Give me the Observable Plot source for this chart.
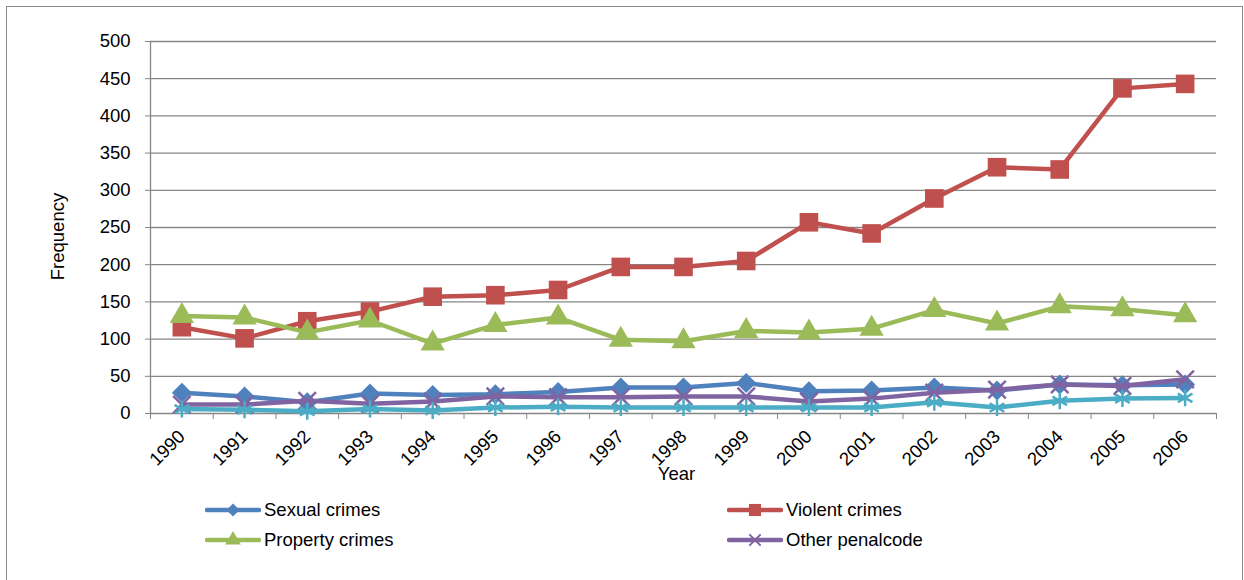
<!DOCTYPE html>
<html><head><meta charset="utf-8">
<script src="https://cdn.jsdelivr.net/npm/d3@7"></script>
<script src="https://cdn.jsdelivr.net/npm/@observablehq/plot@0.6"></script>
<style>
body{margin:0;background:#fff;font-family:"Liberation Sans",Arial,sans-serif;}
#wrap{position:relative;width:1244px;height:580px;overflow:hidden;background:#fff;}
#border{position:absolute;left:6px;top:6px;width:1237px;height:580px;border:1px solid #8a8a8a;box-sizing:border-box;pointer-events:none;}
#chart{position:absolute;left:0;top:0;}
.leg{position:absolute;display:flex;align-items:center;font-size:18.5px;color:#000;height:20px;}
.leg svg{display:block;margin-right:3px;}
</style>
</head><body>
<div id="wrap"><div id="chart"></div><div id="legend"></div><div id="border"></div></div>
<script>
const years = [1990,1991,1992,1993,1994,1995,1996,1997,1998,1999,2000,2001,2002,2003,2004,2005,2006];
const sexualCrimes   = [28,23,15,27,25,26,29,35,35,41,30,31,35,31,39,38,39];
const violentCrimes  = [116,101,124,137,157,159,166,197,197,205,257,242,289,331,328,437,443];
const propertyCrimes = [131,129,109,125,94,119,129,99,97,111,109,114,139,121,144,140,132];
const otherPenalcode = [12,12,17,13,16,23,22,22,23,23,16,20,28,32,39,37,46];
const fifthSeries    = [6,5,3,6,4,8,9,8,8,8,8,8,15,8,17,20,21];
const yTicks = [0,50,100,150,200,250,300,350,400,450,500];

const seriesDefs = [
  {name:"Sexual crimes",   values:sexualCrimes,   color:"#4F81BD", symbol:"diamond2", r:9,    filled:true,  legend:true},
  {name:"Violent crimes",  values:violentCrimes,  color:"#C0504D", symbol:"square",   r:10.5, filled:true,  legend:true},
  {name:"Property crimes", values:propertyCrimes, color:"#9BBB59", symbol:"triangle", r:9,    filled:true,  legend:true},
  {name:"Other penalcode", values:otherPenalcode, color:"#8064A2", symbol:"times",    r:8,    filled:false, legend:true},
  {name:"Other",           values:fifthSeries,    color:"#4BACC6", symbol:"asterisk", r:8,    filled:false, legend:false}
];

const bounds = years.map(y => y - 0.5).concat([years[years.length-1] + 0.5]);
const xDomain = [bounds[0], bounds[bounds.length-1]];

const marks = [
  Plot.gridY(yTicks, {stroke:"#868686", strokeOpacity:1, strokeWidth:1.3}),
  Plot.ruleX([xDomain[0]], {stroke:"#868686", strokeWidth:1.3}),
  Plot.axisY({ticks:yTicks, tickSize:5, tickPadding:15, stroke:"#868686", fill:"#000", fontSize:18.5, label:null}),
  Plot.axisX({ticks:bounds, tickSize:6, tickFormat:() => "", stroke:"#868686", label:null}),
  Plot.axisX({ticks:years, tickSize:0, tickPadding:20, tickRotate:-45, tickFormat:d => String(d), fill:"#000", fontSize:18.5, label:null}),
  Plot.text(["Frequency"], {frameAnchor:"left", textAnchor:"middle", dx:-92, dy:9, rotate:-90, fontSize:18.5, fill:"#000"}),
  Plot.text(["Year"], {frameAnchor:"bottom", dy:66, dx:-7, fontSize:18.5, fill:"#000"})
];

for (const s of seriesDefs) {
  const data = years.map((y, i) => ({year:y, value:s.values[i]}));
  marks.push(Plot.line(data, {x:"year", y:"value", stroke:s.color, strokeWidth:4.5, strokeLinejoin:"round", strokeLinecap:"round"}));
  if (s.filled) {
    marks.push(Plot.dot(data, {x:"year", y:"value", symbol:s.symbol, r:s.r, fill:s.color, stroke:"none"}));
  } else {
    marks.push(Plot.dot(data, {x:"year", y:"value", symbol:s.symbol, r:s.r, stroke:s.color, strokeWidth:2.5, fill:"none"}));
  }
}

const chart = Plot.plot({
  width:1244, height:580,
  marginLeft:150, marginRight:28, marginTop:41, marginBottom:167,
  style:{fontFamily:"'Liberation Sans', Arial, sans-serif", fontSize:"18.5px", color:"#000", background:"#fff"},
  x:{type:"linear", domain:xDomain, axis:null},
  y:{domain:[0,500], axis:null},
  marks
});
document.getElementById("chart").appendChild(chart);

// Legend
const legPos = [{x:205,y:500},{x:727,y:500},{x:205,y:530},{x:727,y:530}];
const leg = document.getElementById("legend");
seriesDefs.filter(s => s.legend).forEach((s, i) => {
  const div = document.createElement("div");
  div.className = "leg";
  div.style.left = legPos[i].x + "px";
  div.style.top = legPos[i].y + "px";
  const svg = d3.create("svg").attr("width",56).attr("height",20);
  svg.append("line").attr("x1",2).attr("x2",54).attr("y1",10).attr("y2",10)
    .attr("stroke",s.color).attr("stroke-width",4.5).attr("stroke-linecap","round");
  const symMap = {diamond2:d3.symbolDiamond2, square:d3.symbolSquare, triangle:d3.symbolTriangle, times:d3.symbolTimes, asterisk:d3.symbolAsterisk};
  const size = Math.PI * (s.r*0.65) * (s.r*0.65);
  const p = svg.append("path").attr("transform","translate(28,10)").attr("d", d3.symbol(symMap[s.symbol], size)());
  if (s.filled) p.attr("fill", s.color); else p.attr("fill","none").attr("stroke", s.color).attr("stroke-width",2);
  div.appendChild(svg.node());
  const span = document.createElement("span");
  span.textContent = s.name;
  div.appendChild(span);
  leg.appendChild(div);
});
</script>
</body></html>
